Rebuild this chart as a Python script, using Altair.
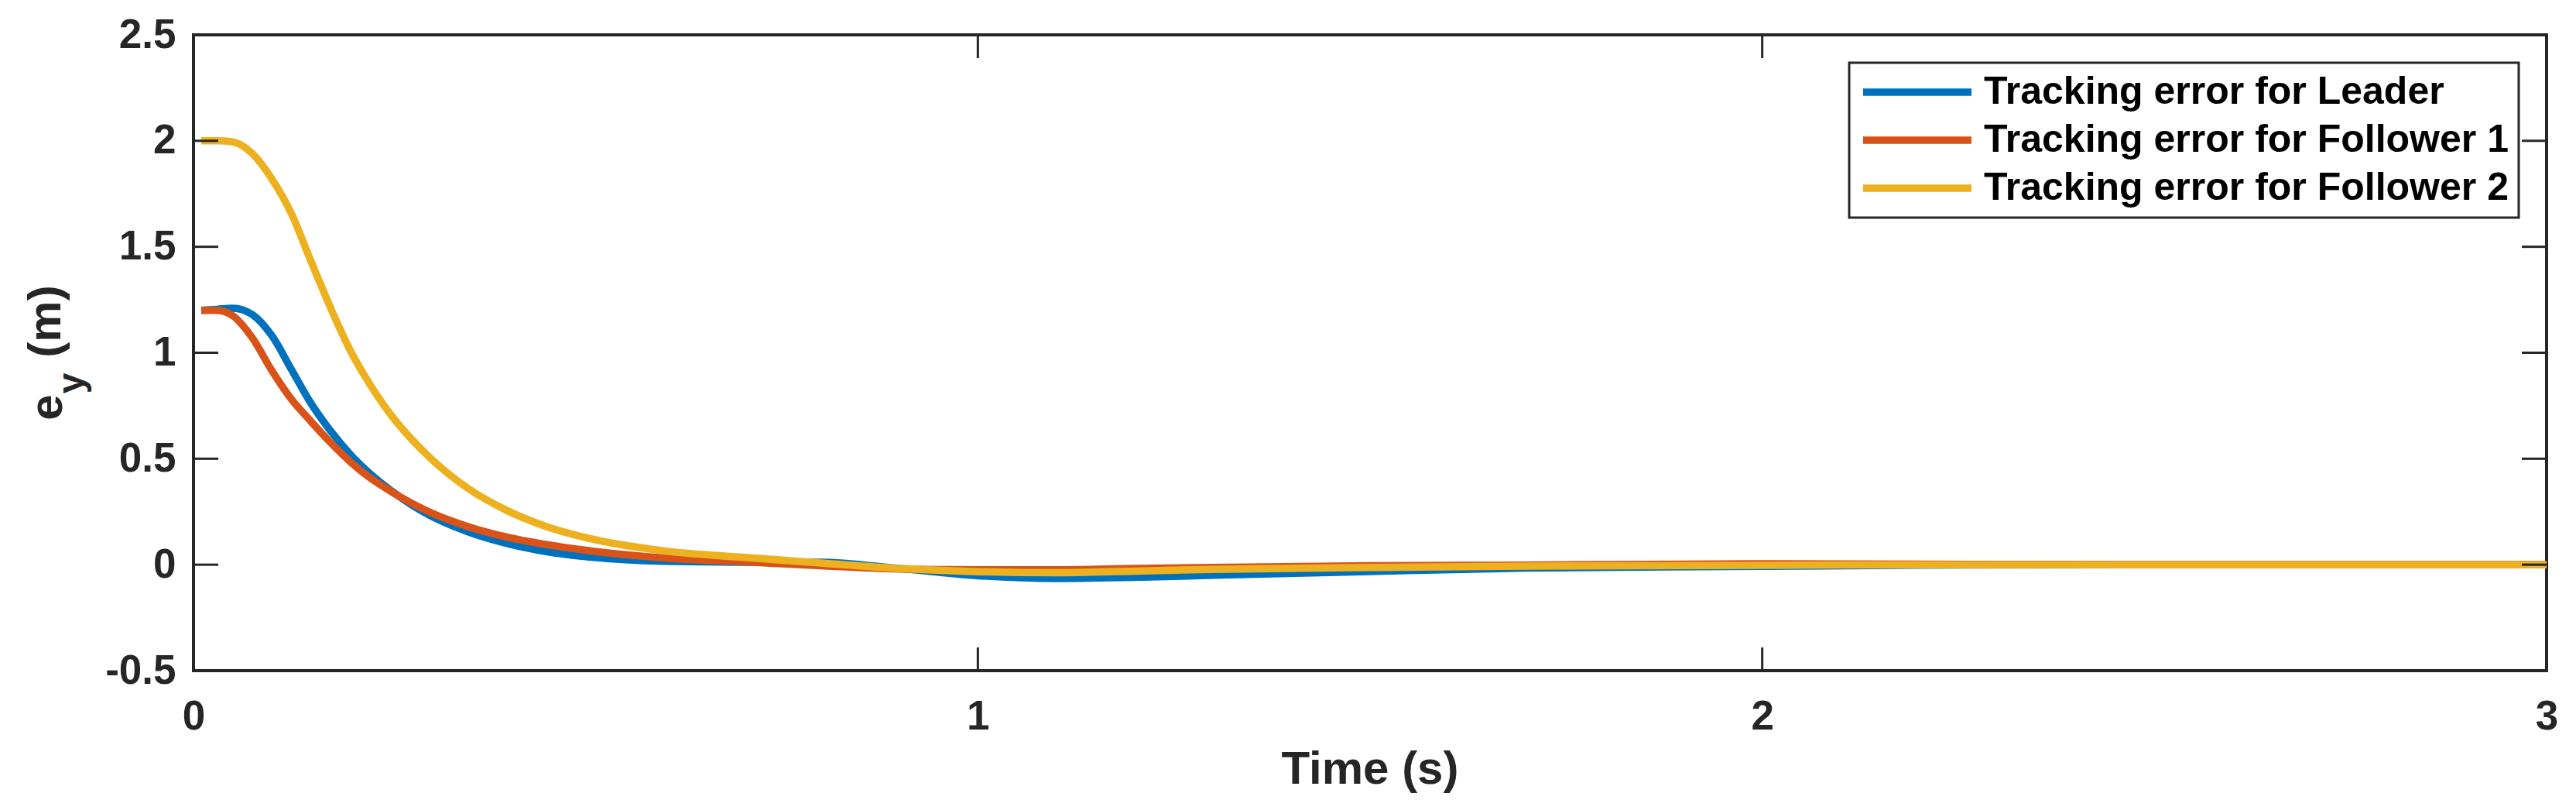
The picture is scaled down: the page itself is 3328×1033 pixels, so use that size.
import pandas as pd
import altair as alt

# time axis (s) and tracking error e_y (m)
time = [0.01, 0.03, 0.05, 0.075, 0.1, 0.125, 0.15, 0.175, 0.2, 0.225, 0.25,
        0.3, 0.35, 0.4, 0.45, 0.5, 0.6, 0.7, 0.8, 0.9, 1.0, 1.1, 1.2, 1.3,
        1.5, 1.7, 2.0, 2.2, 2.5, 3.0]
leader = [1.20, 1.205, 1.21, 1.18, 1.08, 0.92, 0.76, 0.63, 0.52, 0.43, 0.355,
          0.235, 0.155, 0.10, 0.062, 0.038, 0.016, 0.012, 0.012, -0.018, -0.052, -0.065, -0.06, -0.05,
          -0.032, -0.016, -0.008, -0.002, 0.0, 0.0]
follower1 = [1.20, 1.20, 1.175, 1.07, 0.915, 0.78, 0.675, 0.575, 0.485, 0.41, 0.35,
             0.25, 0.18, 0.13, 0.095, 0.068, 0.032, 0.014, -0.005, -0.02, -0.024, -0.024, -0.018, -0.013,
             -0.005, -0.002, 0.004, 0.002, 0.0, 0.0]
follower2 = [2.0, 2.0, 1.995, 1.94, 1.82, 1.655, 1.43, 1.21, 1.01, 0.85, 0.715,
             0.51, 0.36, 0.255, 0.18, 0.128, 0.065, 0.035, 0.008, -0.018, -0.033, -0.038, -0.03, -0.022,
             -0.013, -0.007, -0.003, 0.0, 0.0, 0.0]

series_names = ['Tracking error for Leader', 'Tracking error for Follower 1',
                'Tracking error for Follower 2']
series_colors = ['#0072BD', '#D95319', '#EDB120']

x_ticks = [0, 1, 2, 3]
y_ticks = [-0.5, 0, 0.5, 1, 1.5, 2, 2.5]

W = 3040
H = 821
FONT = 'Liberation Sans'
INK = '#262626'

rows = []
for name, vals in zip(series_names, [leader, follower1, follower2]):
    for t, v in zip(time, vals):
        rows.append({'t': t, 'v': v, 'series': name})
df = pd.DataFrame(rows)

x_scale = alt.Scale(domain=[0, 3], nice=False, zero=False)
y_scale = alt.Scale(domain=[-0.5, 2.5], nice=False, zero=False)

x_axis = alt.Axis(values=x_ticks, title=None, ticks=False, domain=False, grid=False,
                  labelFont=FONT, labelFontSize=53, labelFontWeight='bold', labelColor=INK,
                  labelPadding=75, labelBaseline='alphabetic', labelFlush=False,
                  labelOverlap=False, format='d')
y_axis = alt.Axis(values=y_ticks, title=None, ticks=False, domain=False, grid=False,
                  labelFont=FONT, labelFontSize=53, labelFontWeight='bold', labelColor=INK,
                  labelPadding=23, labelFlush=False, labelOverlap=False,
                  labelExpr="datum.value < 0 ? '-' + format(-datum.value, '~g') : format(datum.value, '~g')")

color = alt.Color('series:N', scale=alt.Scale(domain=series_names, range=series_colors),
                  legend=alt.Legend(title=None, orient='top-right', offset=36))

# one layer per series so the draw order matches (Leader, Follower 1, Follower 2)
line_layers = []
for name in series_names:
    line_layers.append(
        alt.Chart(df).transform_filter(alt.datum.series == name)
        .mark_line(strokeWidth=9.5, interpolate='monotone', clip=True)
        .encode(x=alt.X('t:Q', scale=x_scale, axis=x_axis),
                y=alt.Y('v:Q', scale=y_scale, axis=y_axis),
                color=color)
    )

# inward ticks on all four sides, MATLAB style
ydf = pd.DataFrame({'v': y_ticks})
xdf = pd.DataFrame({'t': x_ticks})
tick_left = alt.Chart(ydf).mark_rule(color=INK, strokeWidth=3).encode(
    y=alt.Y('v:Q', scale=y_scale, axis=y_axis), x=alt.value(0), x2=alt.value(32))
tick_right = alt.Chart(ydf).mark_rule(color=INK, strokeWidth=3).encode(
    y=alt.Y('v:Q', scale=y_scale, axis=y_axis), x=alt.value(W - 32), x2=alt.value(W))
tick_bottom = alt.Chart(xdf).mark_rule(color=INK, strokeWidth=3).encode(
    x=alt.X('t:Q', scale=x_scale, axis=x_axis), y=alt.value(H), y2=alt.value(H - 30))
tick_top = alt.Chart(xdf).mark_rule(color=INK, strokeWidth=3).encode(
    x=alt.X('t:Q', scale=x_scale, axis=x_axis), y=alt.value(0), y2=alt.value(30))

# axis titles (y title has a subscript, so it is built from pieces)
one = pd.DataFrame({'k': [0]})
x_title = alt.Chart(one).mark_text(text='Time (s)', font=FONT, fontSize=60, fontWeight='bold',
                                   color=INK, align='center', baseline='alphabetic').encode(
    x=alt.value(W / 2), y=alt.value(967))
y_e = alt.Chart(one).mark_text(text='e', font=FONT, fontSize=60, fontWeight='bold', color=INK,
                               angle=270, align='center', baseline='alphabetic').encode(
    x=alt.value(-170), y=alt.value(481))
y_sub = alt.Chart(one).mark_text(text='y', font=FONT, fontSize=48, fontWeight='bold', color=INK,
                                 angle=270, align='center', baseline='alphabetic').encode(
    x=alt.value(-142), y=alt.value(450))
y_m = alt.Chart(one).mark_text(text='(m)', font=FONT, fontSize=60, fontWeight='bold', color=INK,
                               angle=270, align='center', baseline='alphabetic').encode(
    x=alt.value(-172), y=alt.value(370))

chart = alt.layer(
    *line_layers, tick_left, tick_right, tick_bottom, tick_top, x_title, y_e, y_sub, y_m
).properties(
    width=W, height=H,
    background='white',
    autosize=alt.AutoSizeParams(type='none'),
    padding={'left': 242, 'top': 37, 'right': 20, 'bottom': 158}
).configure_view(
    stroke=INK, strokeWidth=4
).configure_legend(
    labelFont=FONT, labelFontSize=50, labelFontWeight='bold', labelColor='black',
    labelLimit=1000, labelOffset=11, symbolType='stroke', symbolSize=19600,
    symbolStrokeWidth=9.5, padding=13, rowPadding=12, clipHeight=50,
    strokeColor=INK, strokeWidth=3, fillColor='white'
)

chart.save("out.html", embed_options={"renderer": "svg", "actions": False})
